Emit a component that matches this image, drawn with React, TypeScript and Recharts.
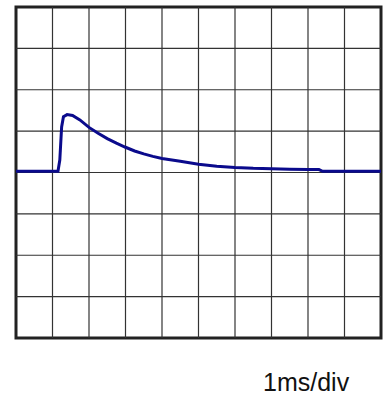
import { LineChart, Line, XAxis, YAxis, ReferenceLine, ReferenceArea } from 'recharts'

// time in divisions (1 ms/div) and amplitude in vertical divisions
const timeDiv = [
  0, 0.5, 1.0, 1.15, 1.2, 1.25, 1.3, 1.4, 1.55, 1.75, 2.0, 2.25, 2.5, 2.75, 3.0, 3.25, 3.5,
  3.75, 4.0, 4.5, 5.0, 5.5, 6.0, 6.5, 7.0, 7.5, 8.0, 8.3, 8.4, 9.0, 10.0,
]
const amplitude = [
  0.03, 0.03, 0.03, 0.03, 0.3, 1.1, 1.35, 1.4, 1.38, 1.27, 1.09, 0.95, 0.82, 0.71, 0.61, 0.52,
  0.45, 0.39, 0.34, 0.27, 0.2, 0.15, 0.12, 0.1, 0.09, 0.08, 0.07, 0.07, 0.03, 0.03, 0.03,
]
const xDivs = [1, 2, 3, 4, 5, 6, 7, 8, 9]
const yDivs = [-3, -2, -1, 0, 1, 2, 3]

const trace = timeDiv.map((t, i) => ({ t, v: amplitude[i] }))

export default function App() {
  return (
    <div style={{ position: 'fixed', left: 0, top: 0, width: 388, height: 399, background: '#fff' }}>
      <LineChart width={388} height={399} data={trace} margin={{ top: 7, right: 7, bottom: 61, left: 16 }}>
        <XAxis dataKey="t" type="number" domain={[0, 10]} hide />
        <YAxis type="number" domain={[-4, 4]} hide />
        {xDivs.map((x) => (
          <ReferenceLine key={'x' + x} x={x} stroke="#333" strokeWidth={1.2} />
        ))}
        {yDivs.map((y) => (
          <ReferenceLine key={'y' + y} y={y} stroke="#333" strokeWidth={1.2} />
        ))}
        <ReferenceArea x1={0} x2={10} y1={-4} y2={4} fill="none" stroke="#222" strokeWidth={3} />
        <Line
          dataKey="v"
          stroke="#0a0a8c"
          strokeWidth={3}
          dot={false}
          type="linear"
          isAnimationActive={false}
        />
      </LineChart>
      <div
        style={{
          position: 'absolute',
          left: 263,
          top: 367,
          fontFamily: '"Liberation Sans", Arial, sans-serif',
          fontSize: 25,
          color: '#111',
          lineHeight: '30px',
        }}
      >
        1ms/div
      </div>
    </div>
  )
}
